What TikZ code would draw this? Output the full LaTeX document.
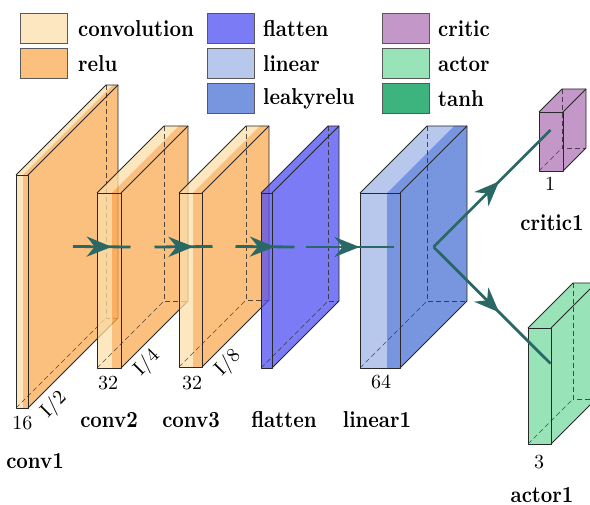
\documentclass[tikz,border=0pt]{standalone}
\usepackage{graphicx}
\usetikzlibrary{arrows.meta,decorations.markings}
\definecolor{convc}{RGB}{252,223,171}
\definecolor{reluc}{RGB}{250,170,83}
\definecolor{flatc}{RGB}{79,79,242}
\definecolor{linc}{RGB}{160,182,230}
\definecolor{lrelc}{RGB}{75,114,214}
\definecolor{critc}{RGB}{175,116,180}
\definecolor{actc}{RGB}{118,219,160}
\definecolor{convL}{RGB}{253,231,192}
\definecolor{reluL}{RGB}{251,191,126}
\definecolor{flatL}{RGB}{123,123,245}
\definecolor{linL}{RGB}{184,200,236}
\definecolor{lrelL}{RGB}{120,149,224}
\definecolor{critL}{RGB}{195,151,199}
\definecolor{actL}{RGB}{152,228,184}
\definecolor{tanhL}{RGB}{61,180,126}
\definecolor{edgec}{RGB}{42,104,102}
\definecolor{linec}{RGB}{40,40,40}
\newcommand\bl[1]{\scalebox{2.0}[2.3]{\fontsize{10}{12}\selectfont\bfseries #1}}
\newcommand\nm[1]{\scalebox{2.0}{\fontsize{10}{12}\selectfont #1}}
\newcommand\nnbox[9]{%
 \fill[#7, fill opacity=0.75] (#1,#4) -- (#2,#4) -- (#2,#5) -- (#1,#5) -- cycle;
 \fill[#8, fill opacity=0.75] (#2,#4) -- (#3,#4) -- (#3,#5) -- (#2,#5) -- cycle;
 \fill[#7, fill opacity=0.75] (#1,#4) -- (#2,#4) -- ({#2+#6},{#4-#6}) -- ({#1+#6},{#4-#6}) -- cycle;
 \fill[#8, fill opacity=0.75] (#2,#4) -- (#3,#4) -- ({#3+#6},{#4-#6}) -- ({#2+#6},{#4-#6}) -- cycle;
 \fill[#8, fill opacity=0.75] (#3,#4) -- ({#3+#6},{#4-#6}) -- ({#3+#6},{#5-#6}) -- (#3,#5) -- cycle;
 \draw[hidden] ({#1+#6},{#4-#6}) -- ({#1+#6},{#5-#6}) -- ({#3+#6},{#5-#6});
 \draw[hidden] (#1,#5) -- ({#1+#6},{#5-#6});
 \draw[boxedge] (#1,#4) rectangle (#3,#5);
 \draw[boxedge] (#1,#4) -- ({#1+#6},{#4-#6}) -- ({#3+#6},{#4-#6}) -- ({#3+#6},{#5-#6}) -- (#3,#5);
 \draw[boxedge] (#3,#4) -- ({#3+#6},{#4-#6});
 \coordinate (#9-west) at ({#1+#6/2},{(#4+#5)/2-#6/2});
 \coordinate (#9-east) at ({#3+#6/2},{(#4+#5)/2-#6/2});
}
\tikzset{
 hidden/.style={draw=linec, line width=0.6pt, dash pattern=on 5pt off 3pt, draw opacity=0.8},
 boxedge/.style={draw=linec, line width=0.8pt, line join=round},
 legsq/.style={draw=black!65, line width=0.8pt, minimum width=47pt, minimum height=30pt, inner sep=0, outer sep=0},
 lab/.style={inner sep=0},
 num/.style={inner sep=0},
 conn/.style={draw=edgec, line width=2.8pt, postaction={decorate},
   decoration={markings, mark=at position 0.5 with {\pgftransformxshift{10pt}\arrow[edgec]{Stealth[length=25pt,width=20pt,inset=8pt]}}}}
}
\begin{document}
\begin{tikzpicture}[x=1pt,y=-1pt]
\useasboundingbox (0,0) rectangle (590,505);
\clip (0,0) rectangle (590,505);
% legend
\node[legsq, fill=convL] (lg1) at (43.5,28) {};
\node[legsq, fill=reluL] (lg2) at (43.5,63) {};
\node[legsq, fill=flatL] (lg3) at (230.5,28) {};
\node[legsq, fill=linL] (lg4) at (230.5,63) {};
\node[legsq, fill=lrelL] (lg5) at (230.5,98) {};
\node[legsq, fill=critL] (lg6) at (405.5,28) {};
\node[legsq, fill=actL] (lg7) at (405.5,63) {};
\node[legsq, fill=tanhL] (lg8) at (405.5,98) {};
\node[lab, anchor=west] (lt1) at (78,29) {\bl{convolution}};
\node[lab, anchor=west] (lt2) at (78,64) {\bl{relu}};
\node[lab, anchor=west] (lt3) at (263,29) {\bl{flatten}};
\node[lab, anchor=west] (lt4) at (263,64) {\bl{linear}};
\node[lab, anchor=west] (lt5) at (263,99) {\bl{leakyrelu}};
\node[lab, anchor=west] (lt6) at (438,29) {\bl{critic}};
\node[lab, anchor=west] (lt7) at (438,64) {\bl{actor}};
\node[lab, anchor=west] (lt8) at (438,99) {\bl{tanh}};
% boxes
\nnbox{16}{23}{28}{175}{408}{90}{convc}{reluc}{conv1}
\nnbox{97}{112}{121}{193}{368}{67}{convc}{reluc}{conv2}
\nnbox{179}{193}{202}{193}{367}{67}{convc}{reluc}{conv3}
\nnbox{261}{272}{272}{193}{368}{67}{flatc}{flatc}{flatten}
\nnbox{360}{387}{400}{193}{368}{67}{linc}{lrelc}{linear1}
\nnbox{539}{563}{563}{112}{171}{23}{critc}{critc}{critic1}
\nnbox{528}{551}{551}{328}{444}{45}{actc}{actc}{actor1}
% numbers
\node[num] (n16) at (22.5,423) {\nm{16}};
\node[num, rotate=45] (nI2) at (54,405) {\nm{I/2}};
\node[num] (n32a) at (108,383) {\nm{32}};
\node[num, rotate=45] (nI4) at (147,363) {\nm{I/4}};
\node[num] (n32b) at (192,383) {\nm{32}};
\node[num, rotate=45] (nI8) at (228,363) {\nm{I/8}};
\node[num] (n64) at (381,382) {\nm{64}};
\node[num] (n1) at (550,184) {\nm{1}};
\node[num] (n3) at (539,462) {\nm{3}};
% captions
\node[lab] (c1) at (35,461) {\bl{conv1}};
\node[lab] (c2) at (109,420) {\bl{conv2}};
\node[lab] (c3) at (191,420) {\bl{conv3}};
\node[lab] (c4) at (284,420) {\bl{flatten}};
\node[lab] (c5) at (377,420) {\bl{linear1}};
\node[lab] (c6) at (552,223) {\bl{critic1}};
\node[lab] (c7) at (542,495) {\bl{actor1}};
% connections
\draw[conn] (conv1-east) -- (conv2-west);
\draw[conn] (conv2-east) -- (conv3-west);
\draw[conn] (conv3-east) -- (flatten-west);
\draw[conn] (flatten-east) -- (linear1-west);
\draw[conn] (linear1-east) -- (critic1-west);
\draw[conn] (linear1-east) -- (actor1-west);
\end{tikzpicture}
\end{document}
